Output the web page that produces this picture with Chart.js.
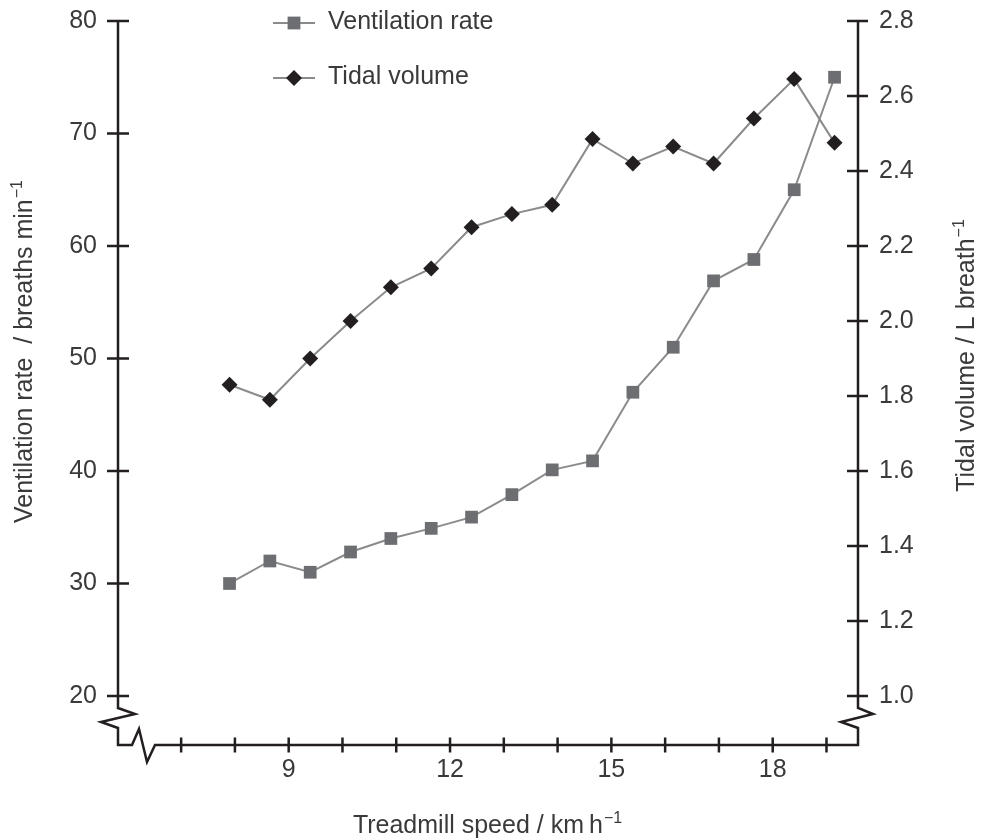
<!DOCTYPE html>
<html>
<head>
<meta charset="utf-8">
<style>
  html, body { margin: 0; padding: 0; background: #fff; }
  #wrap { width: 982px; height: 840px; position: relative; }
</style>
<script src="https://cdn.jsdelivr.net/npm/chart.js@4.4.0/dist/chart.umd.min.js"></script>
</head>
<body>
<div id="wrap"><canvas id="ventChart"></canvas></div>
<script>
// data

const speeds = [7.9, 8.65, 9.4, 10.15, 10.9, 11.65, 12.4, 13.15, 13.9, 14.65, 15.4, 16.15, 16.9, 17.65, 18.4, 19.15];
const ventilationRate = [30, 32, 31, 32.8, 34, 34.9, 35.9, 37.9, 40.1, 40.9, 47, 51, 56.9, 58.8, 65, 75];
const tidalVolume = [1.83, 1.79, 1.9, 2.0, 2.09, 2.14, 2.25, 2.285, 2.31, 2.485, 2.42, 2.465, 2.42, 2.54, 2.645, 2.475];

const ventTicks = [20, 30, 40, 50, 60, 70, 80];
const tidalTicks = [1.0, 1.2, 1.4, 1.6, 1.8, 2.0, 2.2, 2.4, 2.6, 2.8];
const speedTicks = [7, 8, 9, 10, 11, 12, 13, 14, 15, 16, 17, 18, 19];
const speedLabels = [9, 12, 15, 18];

const seriesNames = ["Ventilation rate", "Tidal volume"];

const ink = "#231f20";
const textGrey = "#3a3a3a";
const lineGrey = "#8a8b8d";
const squareGrey = "#6d6e71";
const fontFamily = "'Liberation Sans', Arial, Helvetica, sans-serif";

Chart.defaults.font.family = fontFamily;
Chart.defaults.font.size = 25;
Chart.defaults.color = textGrey;

// text with a small raised "−1" after it
function drawTitle(ctx, main, sup, cx, cy, rot) {
  ctx.save();
  ctx.translate(cx, cy);
  ctx.rotate(rot);
  ctx.fillStyle = textGrey;
  ctx.textBaseline = "alphabetic";
  ctx.textAlign = "left";
  ctx.font = "25px " + fontFamily;
  const w1 = ctx.measureText(main).width;
  ctx.font = "16px " + fontFamily;
  const w2 = ctx.measureText(sup).width;
  const start = -(w1 + w2) / 2;
  ctx.font = "25px " + fontFamily;
  ctx.fillText(main, start, 9);
  ctx.font = "16px " + fontFamily;
  ctx.fillText(sup, start + w1 + 1, -1);
  ctx.restore();
}

// axes with breaks, crossing ticks, titles and legend
const decorPlugin = {
  id: "decor",
  afterDraw(chart) {
    const ctx = chart.ctx;
    const area = chart.chartArea;
    const x = chart.scales.x;
    const yL = chart.scales.yVent;
    const yR = chart.scales.yTidal;
    const L = area.left;
    const R = area.right;
    const B = area.bottom;
    const T = area.top;

    ctx.save();
    ctx.strokeStyle = ink;
    ctx.lineWidth = 2.5;
    ctx.lineJoin = "miter";

    // left axis, bottom axis, right axis in one path
    ctx.beginPath();
    ctx.moveTo(L, T);
    ctx.lineTo(L, 708);
    ctx.lineTo(L + 17, 714);
    ctx.lineTo(L - 17, 722);
    ctx.lineTo(L, 728);
    ctx.lineTo(L, B);
    ctx.lineTo(L + 14, B);
    ctx.lineTo(L + 21, 729);
    ctx.lineTo(L + 29, 762);
    ctx.lineTo(L + 37, B);
    ctx.lineTo(R, B);
    ctx.lineTo(R, 728);
    ctx.lineTo(R - 17, 722);
    ctx.lineTo(R + 15, 714);
    ctx.lineTo(R, 708);
    ctx.lineTo(R, T);
    ctx.stroke();

    ctx.beginPath();
    ventTicks.forEach((v) => {
      const py = yL.getPixelForValue(v);
      ctx.moveTo(L - 11, py);
      ctx.lineTo(L + 11, py);
    });
    tidalTicks.forEach((v) => {
      const py = yR.getPixelForValue(v);
      ctx.moveTo(R - 11, py);
      ctx.lineTo(R + 10, py);
    });
    speedTicks.forEach((v) => {
      const px = x.getPixelForValue(v);
      ctx.moveTo(px, B - 7.5);
      ctx.lineTo(px, B + 7.5);
    });
    ctx.stroke();
    ctx.restore();

    drawTitle(ctx, "Ventilation rate  / breaths min", "\u22121", 23, 352, -Math.PI / 2);
    drawTitle(ctx, "Tidal volume / L breath", "\u22121", 965, 356, -Math.PI / 2);
    drawTitle(ctx, "Treadmill speed / km\u2009h", "\u22121", 487, 824, 0);

    // legend
    ctx.save();
    ctx.strokeStyle = lineGrey;
    ctx.lineWidth = 2;
    ctx.beginPath();
    ctx.moveTo(273, 23);
    ctx.lineTo(315, 23);
    ctx.moveTo(273, 78);
    ctx.lineTo(315, 78);
    ctx.stroke();
    ctx.fillStyle = squareGrey;
    ctx.fillRect(294 - 6.4, 23 - 6.4, 12.8, 12.8);
    ctx.fillStyle = ink;
    ctx.beginPath();
    ctx.moveTo(294, 70);
    ctx.lineTo(302, 78);
    ctx.lineTo(294, 86);
    ctx.lineTo(286, 78);
    ctx.closePath();
    ctx.fill();
    ctx.fillStyle = textGrey;
    ctx.font = "25px " + fontFamily;
    ctx.textBaseline = "alphabetic";
    ctx.fillText(seriesNames[0], 328, 28.5);
    ctx.fillText(seriesNames[1], 328, 83.5);
    ctx.restore();
  }
};

// fixed side width, no extra label overflow padding
function fitSide(width) {
  return (scale) => {
    scale.width = width;
    scale.paddingTop = 0;
    scale.paddingBottom = 0;
  };
}

const canvas = document.querySelector("#ventChart");

new Chart(canvas.getContext("2d"), {
  type: "line",
  data: {
    datasets: [
      {
        label: seriesNames[0],
        data: speeds.map((s, i) => ({ x: s, y: ventilationRate[i] })),
        yAxisID: "yVent",
        borderColor: lineGrey,
        borderWidth: 2,
        pointStyle: "rect",
        pointRadius: 9,
        pointBackgroundColor: squareGrey,
        pointBorderWidth: 0,
        tension: 0
      },
      {
        label: seriesNames[1],
        data: speeds.map((s, i) => ({ x: s, y: tidalVolume[i] })),
        yAxisID: "yTidal",
        borderColor: lineGrey,
        borderWidth: 2,
        pointStyle: "rectRot",
        pointRadius: 8,
        pointBackgroundColor: ink,
        pointBorderWidth: 0,
        tension: 0
      }
    ]
  },
  options: {
    responsive: true,
    maintainAspectRatio: false,
    animation: false,
    events: [],
    layout: { padding: { top: 21, left: 0, right: 0, bottom: 0 } },
    plugins: {
      legend: { display: false },
      tooltip: { enabled: false }
    },
    scales: {
      x: {
        type: "linear",
        min: 5.826,
        max: 19.586,
        grid: { display: false, drawTicks: false },
        border: { display: false },
        afterBuildTicks: (scale) => {
          scale.ticks = speedTicks.map((v) => ({ value: v }));
        },
        afterFit: (scale) => {
          scale.height = 95;
          scale.paddingLeft = 0;
          scale.paddingRight = 0;
        },
        ticks: {
          padding: 10,
          maxRotation: 0,
          autoSkip: false,
          callback: (v) => (speedLabels.includes(v) ? String(v) : "")
        }
      },
      yVent: {
        type: "linear",
        position: "left",
        min: 15.644,
        max: 80,
        grid: { display: false, drawTicks: false },
        border: { display: false },
        afterBuildTicks: (scale) => {
          scale.ticks = ventTicks.map((v) => ({ value: v }));
        },
        afterFit: fitSide(118),
        ticks: { padding: 21, autoSkip: false }
      },
      yTidal: {
        type: "linear",
        position: "right",
        min: 0.8693,
        max: 2.8,
        grid: { display: false, drawTicks: false },
        border: { display: false },
        afterBuildTicks: (scale) => {
          scale.ticks = tidalTicks.map((v) => ({ value: v }));
        },
        afterFit: fitSide(124),
        ticks: {
          padding: 21,
          autoSkip: false,
          callback: (v) => Number(v).toFixed(1)
        }
      }
    }
  },
  plugins: [decorPlugin]
});
</script>
</body>
</html>
